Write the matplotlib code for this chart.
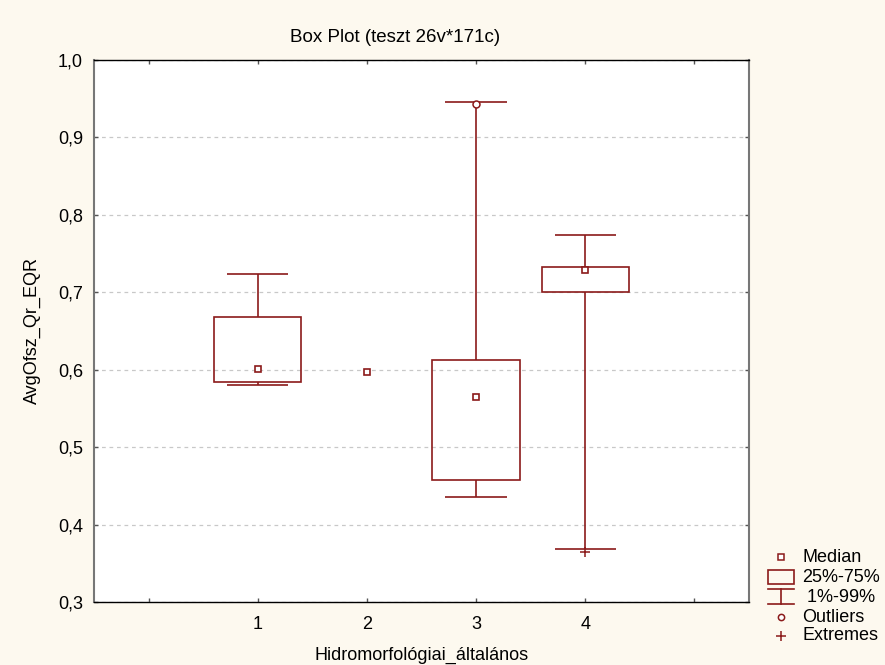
import numpy as np
import matplotlib
matplotlib.use('Agg')
import matplotlib.pyplot as plt
from matplotlib.patches import Rectangle

plt.rcParams['font.family'] = ['Liberation Sans', 'DejaVu Sans']

# summary statistics per category
groups = [1, 2, 3, 4]
medians = [0.601, 0.597, 0.564, 0.729]
q1 = [0.584, 0.597, 0.457, 0.700]
q3 = [0.668, 0.597, 0.612, 0.732]
p01 = [0.580, 0.597, 0.436, 0.369]
p99 = [0.723, 0.597, 0.945, 0.773]
outliers_x = [3]
outliers_y = [0.943]
extremes_x = [4]
extremes_y = [0.365]

red = '#8b1a1a'
bg = '#fdf9ef'
box_w = 0.8
cap_w = 0.56
fs = 13

fig = plt.figure(figsize=(8.85, 6.65), dpi=100, facecolor=bg)
ax = fig.add_axes([0.1062, 0.0947, 0.7401, 0.8158])
ax.set_facecolor('white')

for g, md, lo, hi, wl, wh in zip(groups, medians, q1, q3, p01, p99):
    if hi - lo > 0:
        ax.add_patch(Rectangle((g - box_w / 2, lo), box_w, hi - lo,
                               fill=False, edgecolor=red, lw=1.2, zorder=3))
    if wh > hi:
        ax.vlines(g, hi, wh, color=red, lw=1.2, zorder=2)
        ax.hlines(wh, g - cap_w / 2, g + cap_w / 2, color=red, lw=1.2, zorder=2)
    if wl < lo:
        ax.vlines(g, wl, lo, color=red, lw=1.2, zorder=2)
        ax.hlines(wl, g - cap_w / 2, g + cap_w / 2, color=red, lw=1.2, zorder=2)

ax.plot(groups, medians, 's', ms=5, mfc='white', mec=red, mew=1.2, ls='none', zorder=4)
ax.plot(outliers_x, outliers_y, 'o', ms=5, mfc='white', mec=red, mew=1.1, ls='none', zorder=4)
ax.plot(extremes_x, extremes_y, '+', ms=7, mec=red, mew=1.1, ls='none', zorder=4)

ax.set_xlim(-0.5, 5.5)
ax.set_ylim(0.3, 1.0)
ax.set_xticks(range(0, 6))
ax.set_xticklabels(['', '1', '2', '3', '4', ''])
yt = np.arange(0.3, 1.01, 0.1)
ax.set_yticks(yt)
ax.set_yticklabels([f'{v:.1f}'.replace('.', ',') for v in yt])
ax.tick_params(direction='in', length=3, width=1, top=True, right=True,
               labelsize=fs, colors='#555555', labelcolor='black')
ax.tick_params(axis='y', pad=8)
ax.tick_params(axis='x', pad=10)
ax.grid(axis='y', ls=(0, (3, 3)), color='#c8c8c8', lw=0.9)
for s in ['left', 'right']:
    ax.spines[s].set_color('#777777')
    ax.spines[s].set_linewidth(1.5)
for s in ['top', 'bottom']:
    ax.spines[s].set_color('black')
    ax.spines[s].set_linewidth(1.0)

ax.set_xlabel('Hidromorfológiai_általános', fontsize=fs, labelpad=10)
ax.set_ylabel('AvgOfsz_Qr_EQR', fontsize=fs, labelpad=12)
fig.text(395 / 885, 1 - 37 / 665, 'Box Plot (teszt 26v*171c)', fontsize=fs + 0.5,
         ha='center', va='center')

# legend key drawn in pixel space on an overlay
lg = fig.add_axes([0, 0, 1, 1], facecolor='none')
lg.set_xlim(0, 885)
lg.set_ylim(665, 0)
lg.axis('off')
lg.plot([781], [557], 's', ms=5, mfc='white', mec=red, mew=1.1)
lg.add_patch(Rectangle((768, 570), 26, 14, fill=False, edgecolor=red, lw=1.2))
lg.plot([768, 794], [589, 589], color=red, lw=1.2)
lg.plot([768, 794], [604, 604], color=red, lw=1.2)
lg.plot([781, 781], [589, 604], color=red, lw=1.2)
lg.plot([781], [617], 'o', ms=4.5, mfc='white', mec=red, mew=1.1)
lg.plot([781], [636], '+', ms=7, mec=red, mew=1.1)
for ty, txt in zip([557, 578, 598, 617, 636],
                   ['Median', '25%-75%', ' 1%-99%', 'Outliers', 'Extremes']):
    lg.text(802, ty, txt, fontsize=fs, va='center', ha='left')

fig.savefig('out.png', dpi=100, facecolor=bg)
